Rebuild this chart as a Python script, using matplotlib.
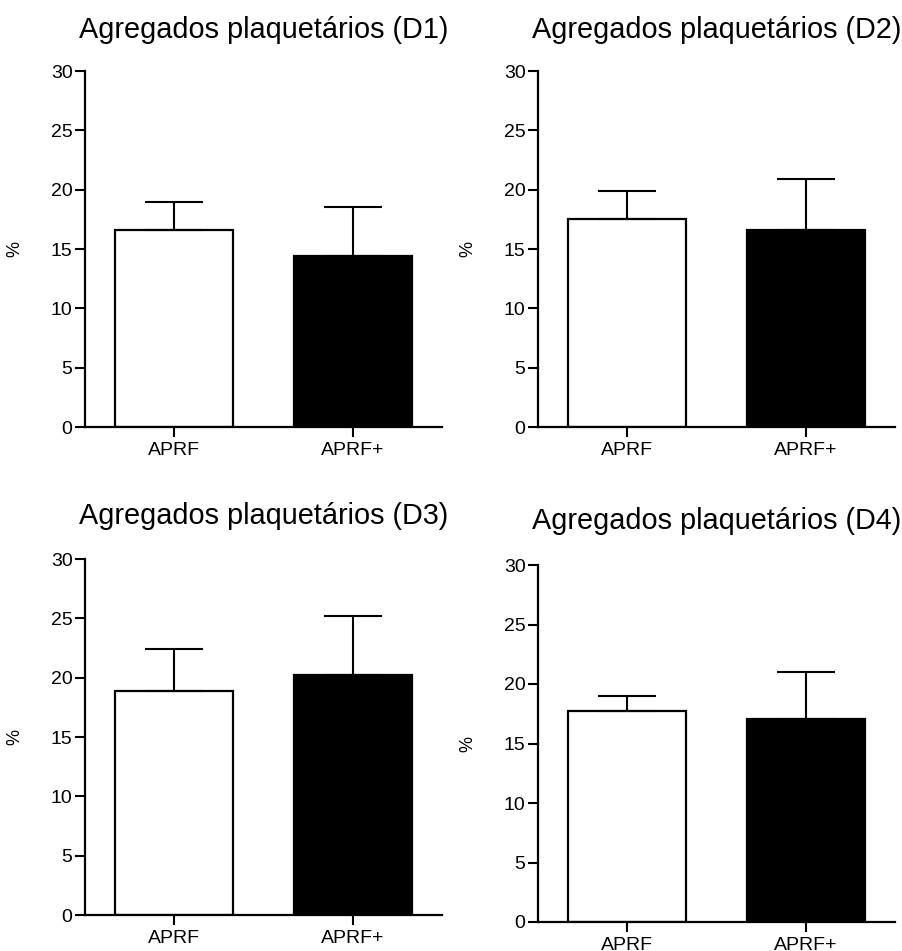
import numpy as np
import matplotlib
matplotlib.use('Agg')
import matplotlib.pyplot as plt

plt.rcParams['font.family'] = ['Liberation Sans', 'DejaVu Sans']

# dados (media e barra de erro superior)
grupos = ['APRF', 'APRF+']
titulos = ['Agregados plaquetários (D1)', 'Agregados plaquetários (D2)',
           'Agregados plaquetários (D3)', 'Agregados plaquetários (D4)']
media_d1 = [16.6, 14.4]
erro_d1 = [2.4, 4.1]
media_d2 = [17.5, 16.6]
erro_d2 = [2.35, 4.3]
media_d3 = [18.9, 20.2]
erro_d3 = [3.5, 5.0]
media_d4 = [17.7, 17.1]
erro_d4 = [1.25, 3.9]
yticks = [0, 5, 10, 15, 20, 25, 30]

medias = [media_d1, media_d2, media_d3, media_d4]
erros = [erro_d1, erro_d2, erro_d3, erro_d4]

fig = plt.figure(figsize=(9.02, 9.51), dpi=100)

# posicoes dos paineis em pixels (esq, topo, dir, base)
caixas = [(85, 71, 442, 427), (538, 71, 895, 427),
          (85, 559, 442, 915), (538, 565, 895, 922)]
pads = [24, 24, 25, 26]

for k in range(4):
    e, t, d, b = caixas[k]
    ax = fig.add_axes([e / 902, 1 - b / 951, (d - e) / 902, (b - t) / 951])
    x = np.arange(len(grupos))
    ax.bar(x, medias[k], width=0.66, color=['white', 'black'],
           edgecolor='black', linewidth=1.6, zorder=2)
    ax.errorbar(x, medias[k], yerr=[np.zeros(2), erros[k]], fmt='none',
                ecolor='black', elinewidth=1.5, capsize=21, capthick=1.5, zorder=3)
    ax.set_xlim(-0.5, 1.5)
    ax.set_ylim(0, 30)
    ax.set_yticks(yticks)
    ax.set_xticks(x)
    ax.set_xticklabels(grupos)
    ax.spines['top'].set_visible(False)
    ax.spines['right'].set_visible(False)
    ax.spines['left'].set_linewidth(1.6)
    ax.spines['bottom'].set_linewidth(1.6)
    ax.tick_params(axis='both', length=7, width=1.5, labelsize=14, pad=2)
    ax.tick_params(axis='x', pad=4)
    ax.set_ylabel('%', fontsize=13, labelpad=20)
    ax.set_title(titulos[k], fontsize=20.8, pad=pads[k])

plt.savefig('out.png', dpi=100)
